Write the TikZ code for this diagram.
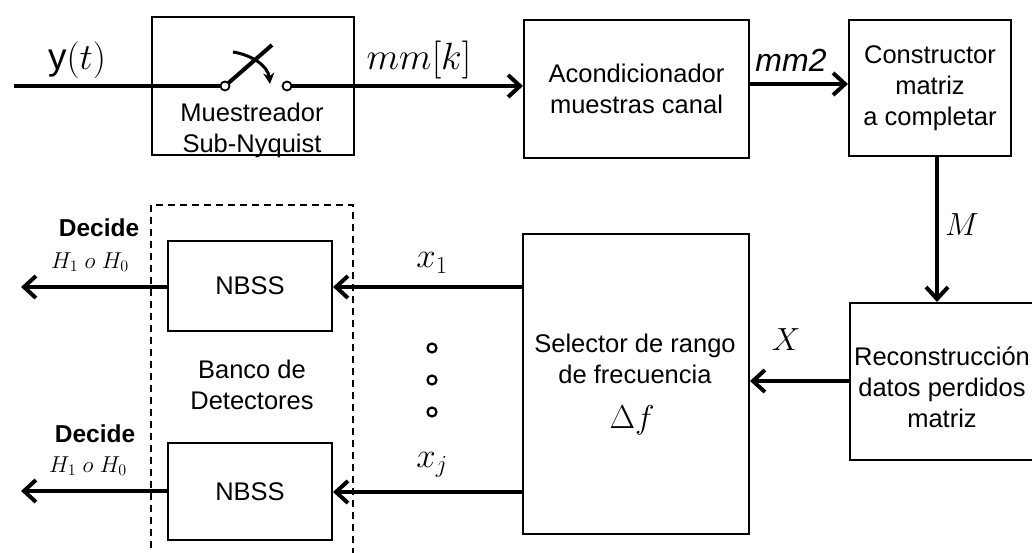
\RequirePackage{fix-cm}
\documentclass[tikz,border=0pt]{standalone}
\usepackage[no-math]{fontspec}
\setmainfont{Liberation Sans}
\usetikzlibrary{arrows.meta}
\tikzset{
  box/.style={draw, line width=2pt, inner sep=0pt, anchor=north west, align=center},
  txt/.style={font=\fontsize{25.5}{31}\selectfont, align=center, inner sep=0pt},
  dectxt/.style={font=\fontsize{24.5}{27}\selectfont\bfseries, inner sep=0pt},
  mlab/.style={font=\fontsize{32}{36}\selectfont, inner sep=0pt},
  arr/.style={line width=4pt, -{Straight Barb[length=12pt,width=22pt]}},
  wire/.style={line width=4pt},
  pin/.style={circle, draw, fill=white, line width=1.8pt, minimum size=9pt, inner sep=0pt},
  dot/.style={circle, draw, line width=2.2pt, minimum size=9pt, inner sep=0pt},
}
\begin{document}
\begin{tikzpicture}[x=1pt,y=-1pt]
\useasboundingbox (0,0) rectangle (1032,553);
\clip (0,0) rectangle (1032,553);
% boxes
\node[box, minimum width=202pt, minimum height=138pt] (samp) at (151,16) {};
\node[txt] (samptxt) at (252,130) {Muestreador\\Sub-Nyquist};
\node[box, txt, minimum width=225pt, minimum height=138pt] (acond) at (523,19) {Acondicionador\\muestras canal};
\node[box, txt, minimum width=162pt, minimum height=136pt] (constr) at (848,19) {Constructor\\matriz\\a completar};
\node[box, minimum width=195pt, minimum height=157pt] (recon) at (849,302) {};
\node[txt] (recontxt) at (942,387) {Reconstrucción\\datos perdidos\\matriz};
\node[box, minimum width=226pt, minimum height=300pt] (sel) at (522,233) {};
\node[txt] (seltxt) at (635,359) {Selector de rango\\de frecuencia};
\node[mlab, font=\fontsize{33}{36}\selectfont] (df) at (632,420) {$\Delta f$};
\node[box, txt, minimum width=164pt, minimum height=90pt] (nb1) at (167,240) {NBSS};
\node[box, txt, minimum width=164pt, minimum height=97pt] (nb2) at (167,442) {NBSS};
% dashed bank
\draw[line width=1.5pt, dash pattern=on 7pt off 5pt] (151,560) -- (151,205) -- (353,205) -- (353,560);
\node[txt] (bank) at (252,385) {Banco de\\Detectores};
% switch
\coordinate (in) at (14,86);
\coordinate (lever) at (272,45);
\coordinate (arcs) at (233,52);
\coordinate (arce) at (270,84);
\draw[line width=4pt] (225,86) -- (lever);
\draw[line width=3pt, -{Stealth[length=11pt,width=11pt]}] (arcs) .. controls (252,55) and (268,66) .. (arce);
\node[pin] (c1) at (225,86) {};
\node[pin] (c2) at (287,86) {};
\draw[wire] (in) -- (c1.west);
\draw[arr] (c2.east) -- (c2 -| acond.west);
% connectors
\coordinate (y84) at (0,84);
\coordinate (mx) at (937,0);
\coordinate (y381) at (0,381);
\coordinate (y287) at (0,287);
\coordinate (y492) at (0,492);
\coordinate (o1) at (21,287);
\coordinate (o2) at (21,491);
\draw[arr] (acond.east |- y84) -- (constr.west |- y84);
\draw[arr] (constr.south -| mx) -- (recon.north -| mx);
\draw[arr] (recon.west |- y381) -- (sel.east |- y381);
\draw[arr] (sel.west |- y287) -- (nb1.east |- y287);
\draw[arr] (sel.west |- y492) -- (nb2.east |- y492);
\draw[arr] (nb1.west |- o1) -- (o1);
\draw[arr] (nb2.west |- o2) -- (o2);
% dots
\node[dot] (d1) at (432,348) {};
\node[dot] (d2) at (432,380) {};
\node[dot] (d3) at (432,412) {};
% labels
\node[mlab, font=\fontsize{37}{40}\selectfont] (ly) at (77,60) {y$(t)$};
\node[mlab, font=\fontsize{38}{40}\selectfont] (lmk) at (419,60) {$mm[k]$};
\node[mlab, font=\fontsize{32}{36}\selectfont\itshape] (lmm2) at (791,60) {mm2};
\node[mlab, font=\fontsize{32}{36}\selectfont] (lM) at (962,225) {$M$};
\node[mlab, font=\fontsize{32}{36}\selectfont] (lX) at (786,340) {$X$};
\node[mlab, font=\fontsize{35}{38}\selectfont] (lx1) at (432,263) {$x_1$};
\node[mlab, font=\fontsize{35}{38}\selectfont] (lxj) at (432,465) {$x_j$};
\node[dectxt] (dec1) at (99,228) {Decide};
\node[font=\fontsize{23}{25}\selectfont, inner sep=0pt] (h1) at (90,262) {$H_1\ o\ H_0$};
\node[dectxt] (dec2) at (95,434) {Decide};
\node[font=\fontsize{23}{25}\selectfont, inner sep=0pt] (h2) at (88,466) {$H_1\ o\ H_0$};
\end{tikzpicture}
\end{document}
